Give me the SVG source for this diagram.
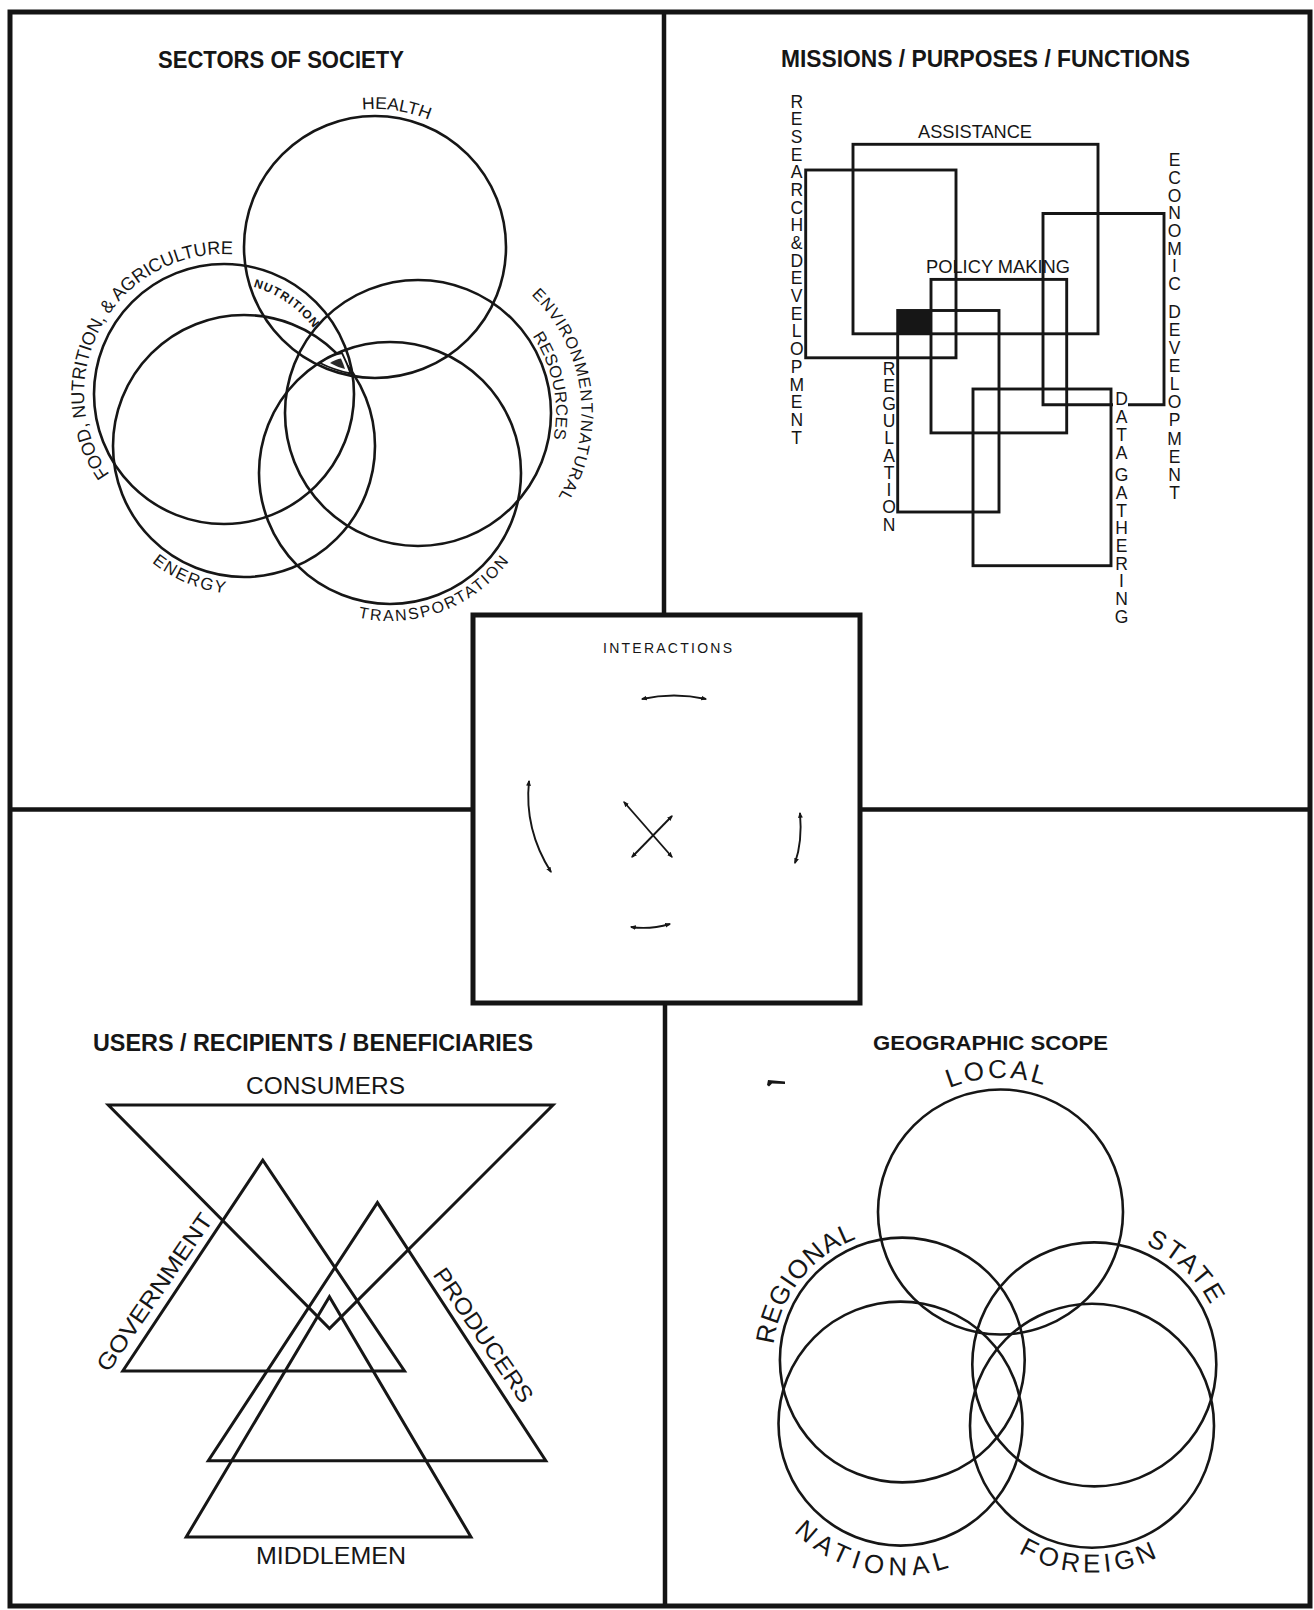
<svg xmlns="http://www.w3.org/2000/svg" width="1314" height="1610" viewBox="0 0 1314 1610">
<style>
  .frame { fill:none; stroke:#141414; stroke-width:5; }
  .div { fill:none; stroke:#141414; stroke-width:4.5; }
  .ln { fill:none; stroke:#161616; stroke-width:2.6; }
  .rc { fill:none; stroke:#161616; stroke-width:2.9; }
  .tri { fill:none; stroke:#161616; stroke-width:3; stroke-linejoin:miter; }
  .arr { fill:none; stroke:#161616; stroke-width:1.9; marker-start:url(#ah); marker-end:url(#ah); }
  text { font-family:"Liberation Sans", Arial, Helvetica, sans-serif; fill:#161616; }
  .title { font-weight:bold; font-size:23px; }
  .arc16 { font-size:16px; }
  .arc165 { font-size:16.5px; }
  .arc17 { font-size:17px; }
  .arc185 { font-size:18.5px; }
  .arc26 { font-size:26px; }
  .lbl18 { font-size:18px; }
  .lbl23 { font-size:23px; }
  .col { font-size:17.5px; text-anchor:middle; }
</style>
<defs>
  <marker id="ah" viewBox="0 0 10 10" refX="8" refY="5" markerWidth="6" markerHeight="6" markerUnits="userSpaceOnUse" orient="auto-start-reverse">
    <path d="M0,1 L10,5 L0,9 z" fill="#161616"/>
  </marker>
  <path id="pHealth" d="M 362.25 109.6 A 138 138 0 0 1 426.9 119.1"/>
  <path id="pFood" d="M 109.5 474.5 A 140 140 0 0 1 232.5 254.3"/>
  <path id="pNutr" d="M 253.3 286.9 A 111 111 0 0 1 315.7 331.5"/>
  <path id="pEnv" d="M 531.2 295 A 163.5 163.5 0 0 1 556.5 499.9"/>
  <path id="pRes" d="M 532.4 335.8 A 138 138 0 0 1 553.2 440.8"/>
  <path id="pEnergy" d="M 151.8 562.4 A 148.5 148.5 0 0 0 226.4 593.5"/>
  <path id="pTrans" d="M 358 617.5 A 148 148 0 0 0 510 559.6"/>
  <path id="pLocal" d="M 949.4 1088.1 A 134 134 0 0 1 1044.1 1085.3"/>
  <path id="pRegional" d="M 773.5 1344.6 A 129.7 129.7 0 0 1 857.3 1238.4"/>
  <path id="pState" d="M 1145.7 1244.5 A 130.4 130.4 0 0 1 1210.8 1305.8"/>
  <path id="pNational" d="M 793.7 1531.5 A 151.8 151.8 0 0 0 950.4 1567"/>
  <path id="pForeign" d="M 1018.3 1552.8 A 146.9 146.9 0 0 0 1158.5 1556.7"/>
</defs>
<rect width="1314" height="1610" fill="#ffffff"/>

<g id="frame">
  <rect class="frame" x="10" y="12" width="1300" height="1594"/>
  <line class="div" x1="664" y1="12" x2="664" y2="615"/>
  <line class="div" x1="10" y1="809.5" x2="473" y2="809.5"/>
  <line class="div" x1="860" y1="809.5" x2="1310" y2="809.5"/>
  <line class="div" x1="665" y1="1003" x2="665" y2="1606"/>
</g>

<g id="sectors">
  <text class="title" x="281" y="67.5" text-anchor="middle" textLength="246" lengthAdjust="spacingAndGlyphs">SECTORS OF SOCIETY</text>
  <g id="health"><circle class="ln" cx="375" cy="247" r="131"/>
    <text class="arc17"><textPath href="#pHealth" textLength="68" lengthAdjust="spacingAndGlyphs">HEALTH</textPath></text></g>
  <g id="food"><circle class="ln" cx="224" cy="394" r="130"/>
    <text class="arc185"><textPath href="#pFood" textLength="314" lengthAdjust="spacingAndGlyphs">FOOD, NUTRITION, &amp; AGRICULTURE</textPath></text></g>
  <g id="energy"><circle class="ln" cx="244" cy="446" r="131"/>
    <text class="arc17"><textPath href="#pEnergy" textLength="80" lengthAdjust="spacing">ENERGY</textPath></text></g>
  <g id="environment"><circle class="ln" cx="418" cy="413" r="133"/>
    <text class="arc165"><textPath href="#pEnv" textLength="220" lengthAdjust="spacing">ENVIRONMENT/NATURAL</textPath></text>
    <text class="arc165"><textPath href="#pRes" textLength="108" lengthAdjust="spacingAndGlyphs">RESOURCES</textPath></text></g>
  <g id="transportation"><circle class="ln" cx="390" cy="473" r="131"/>
    <text class="arc16"><textPath href="#pTrans" textLength="170" lengthAdjust="spacing">TRANSPORTATION</textPath></text></g>
  <g id="nutrition">
    <text style="font-size:12px;font-weight:bold"><textPath href="#pNutr" textLength="74" lengthAdjust="spacing">NUTRITION</textPath></text>
  </g>
  <g id="overlap">
    <path d="M 320 363 Q 331 355 342 353 Q 347 363 350.5 373.5 Q 334 370 320 363 Z" fill="#ffffff" stroke="#161616" stroke-width="1.8"/>
    <path d="M 330 363 Q 336 359 341 358.5 Q 343.5 364 345 369 Q 337 367 330 363 Z" fill="#2a2a2a"/>
  </g>
</g>

<g id="missions">
  <text class="title" x="985.5" y="66.7" text-anchor="middle" textLength="409" lengthAdjust="spacingAndGlyphs">MISSIONS / PURPOSES / FUNCTIONS</text>
  <g id="assistance">
    <rect class="rc" x="853" y="144.3" width="245" height="189.5"/>
    <text class="lbl18" x="975" y="137.5" text-anchor="middle" textLength="114" lengthAdjust="spacingAndGlyphs">ASSISTANCE</text>
  </g>
  <g id="research">
    <rect class="rc" x="805.7" y="170" width="150.3" height="187.8"/>
    <text class="col" x="796.7"><tspan x="796.7" y="107.6">R</tspan><tspan x="796.7" y="125.3">E</tspan><tspan x="796.7" y="143">S</tspan><tspan x="796.7" y="160.6">E</tspan><tspan x="796.7" y="178.3">A</tspan><tspan x="796.7" y="196">R</tspan><tspan x="796.7" y="213.7">C</tspan><tspan x="796.7" y="231.4">H</tspan><tspan x="796.7" y="249">&amp;</tspan><tspan x="796.7" y="266.7">D</tspan><tspan x="796.7" y="284.4">E</tspan><tspan x="796.7" y="302.1">V</tspan><tspan x="796.7" y="319.8">E</tspan><tspan x="796.7" y="337.4">L</tspan><tspan x="796.7" y="355.1">O</tspan><tspan x="796.7" y="372.8">P</tspan><tspan x="796.7" y="390.5">M</tspan><tspan x="796.7" y="408.2">E</tspan><tspan x="796.7" y="425.8">N</tspan><tspan x="796.7" y="443.5">T</tspan></text>
  </g>
  <g id="economic">
    <path class="rc" d="M 1113 404.8 L 1043 404.8 L 1043 213.5 L 1164 213.5 L 1164 404.8 L 1128 404.8"/>
    <text class="col" x="1174.5"><tspan x="1174.5" y="166.1">E</tspan><tspan x="1174.5" y="183.8">C</tspan><tspan x="1174.5" y="201.5">O</tspan><tspan x="1174.5" y="219.2">N</tspan><tspan x="1174.5" y="236.9">O</tspan><tspan x="1174.5" y="254.6">M</tspan><tspan x="1174.5" y="272.3">I</tspan><tspan x="1174.5" y="290">C</tspan><tspan x="1174.5" y="317.8">D</tspan><tspan x="1174.5" y="335.9">E</tspan><tspan x="1174.5" y="354">V</tspan><tspan x="1174.5" y="372.1">E</tspan><tspan x="1174.5" y="390.2">L</tspan><tspan x="1174.5" y="408.3">O</tspan><tspan x="1174.5" y="426.4">P</tspan><tspan x="1174.5" y="444.5">M</tspan><tspan x="1174.5" y="462.6">E</tspan><tspan x="1174.5" y="480.7">N</tspan><tspan x="1174.5" y="498.8">T</tspan></text>
  </g>
  <g id="policy">
    <rect class="rc" x="931" y="279.4" width="135.7" height="153.5"/>
    <text class="lbl18" x="998" y="272.5" text-anchor="middle" textLength="144" lengthAdjust="spacingAndGlyphs">POLICY MAKING</text>
  </g>
  <g id="regulation">
    <rect class="rc" x="897.7" y="310.5" width="101.3" height="201.5"/>
    <rect x="897.7" y="310.5" width="33.3" height="23.3" fill="#161616"/>
    <text class="col" x="889"><tspan x="889" y="375.1">R</tspan><tspan x="889" y="392.4">E</tspan><tspan x="889" y="409.6">G</tspan><tspan x="889" y="426.9">U</tspan><tspan x="889" y="444.2">L</tspan><tspan x="889" y="461.5">A</tspan><tspan x="889" y="478.7">T</tspan><tspan x="889" y="496">I</tspan><tspan x="889" y="513.3">O</tspan><tspan x="889" y="530.5">N</tspan></text>
  </g>
  <g id="data">
    <rect class="rc" x="973" y="389" width="138" height="176.7"/>
    <text class="col" x="1121.5"><tspan x="1121.5" y="405.2">D</tspan><tspan x="1121.5" y="423">A</tspan><tspan x="1121.5" y="440.8">T</tspan><tspan x="1121.5" y="458.6">A</tspan><tspan x="1121.5" y="481.2">G</tspan><tspan x="1121.5" y="498.9">A</tspan><tspan x="1121.5" y="516.6">T</tspan><tspan x="1121.5" y="534.3">H</tspan><tspan x="1121.5" y="552">E</tspan><tspan x="1121.5" y="569.7">R</tspan><tspan x="1121.5" y="587.4">I</tspan><tspan x="1121.5" y="605.1">N</tspan><tspan x="1121.5" y="622.8">G</tspan></text>
  </g>
</g>

<g id="users">
  <text class="title" x="313" y="1051" text-anchor="middle" textLength="440" lengthAdjust="spacingAndGlyphs">USERS / RECIPIENTS / BENEFICIARIES</text>
  <g id="consumers">
    <polygon class="tri" points="108.3,1105 553,1105 329.5,1328.5"/>
    <text class="lbl23" x="325.5" y="1094" text-anchor="middle" textLength="159" lengthAdjust="spacingAndGlyphs">CONSUMERS</text>
  </g>
  <g id="government">
    <polygon class="tri" points="262.8,1160.2 122.8,1371 404.5,1371"/>
    <text class="lbl23" x="0" y="0" text-anchor="middle" textLength="186" lengthAdjust="spacingAndGlyphs" transform="translate(161 1296.5) rotate(-55.5)">GOVERNMENT</text>
  </g>
  <g id="producers">
    <polygon class="tri" points="377.4,1202.6 208.3,1460.7 545.8,1460.7"/>
    <text class="lbl23" x="0" y="0" text-anchor="middle" textLength="158" lengthAdjust="spacingAndGlyphs" transform="translate(476.9 1339.6) rotate(55.5)">PRODUCERS</text>
  </g>
  <g id="middlemen">
    <polygon class="tri" points="329.4,1296.7 186.2,1537 471,1537"/>
    <text class="lbl23" x="331" y="1563.5" text-anchor="middle" textLength="150" lengthAdjust="spacingAndGlyphs">MIDDLEMEN</text>
  </g>
</g>

<g id="geographic">
  <text class="title" x="990.5" y="1049.5" text-anchor="middle" textLength="235" lengthAdjust="spacingAndGlyphs" style="font-size:20.5px">GEOGRAPHIC SCOPE</text>
  <polygon points="768,1080 785,1081.5 785,1084 772,1083.5 769,1086.5 767,1085" fill="#161616"/>
  <g id="local"><circle class="ln" cx="1000.5" cy="1212" r="122.5"/>
    <text class="arc26"><textPath href="#pLocal" textLength="96" lengthAdjust="spacing">LOCAL</textPath></text></g>
  <g id="regional"><circle class="ln" cx="902.3" cy="1360" r="122.4"/>
    <text class="arc26"><textPath href="#pRegional" textLength="141" lengthAdjust="spacing">REGIONAL</textPath></text></g>
  <g id="state"><circle class="ln" cx="1094.3" cy="1364.4" r="122"/>
    <text class="arc26"><textPath href="#pState" textLength="90" lengthAdjust="spacing">STATE</textPath></text></g>
  <g id="national"><circle class="ln" cx="900.5" cy="1423.6" r="122"/>
    <text class="arc26"><textPath href="#pNational" textLength="168" lengthAdjust="spacing">NATIONAL</textPath></text></g>
  <g id="foreign"><circle class="ln" cx="1092" cy="1425.7" r="122"/>
    <text class="arc26"><textPath href="#pForeign" textLength="145" lengthAdjust="spacing">FOREIGN</textPath></text></g>
</g>

<g id="interactions">
  <rect x="473" y="615" width="387" height="388" fill="#ffffff" stroke="#141414" stroke-width="5"/>
  <text x="667.5" y="653" text-anchor="middle" style="font-size:14px" textLength="129" lengthAdjust="spacing">INTERACTIONS</text>
</g>

<g id="connectors">
  <path class="arr" d="M 642 699 Q 674 692 706 699"/>
  <path class="arr" d="M 529 781 Q 524 829.5 551 872"/>
  <path class="arr" d="M 800 813 Q 802.5 841.7 795 863"/>
  <path class="arr" d="M 631 927 Q 649.5 929.8 670 924"/>
  <path class="arr" d="M 624 802 L 672 857"/>
  <path class="arr" d="M 632 857 L 672 816"/>
</g>
</svg>
